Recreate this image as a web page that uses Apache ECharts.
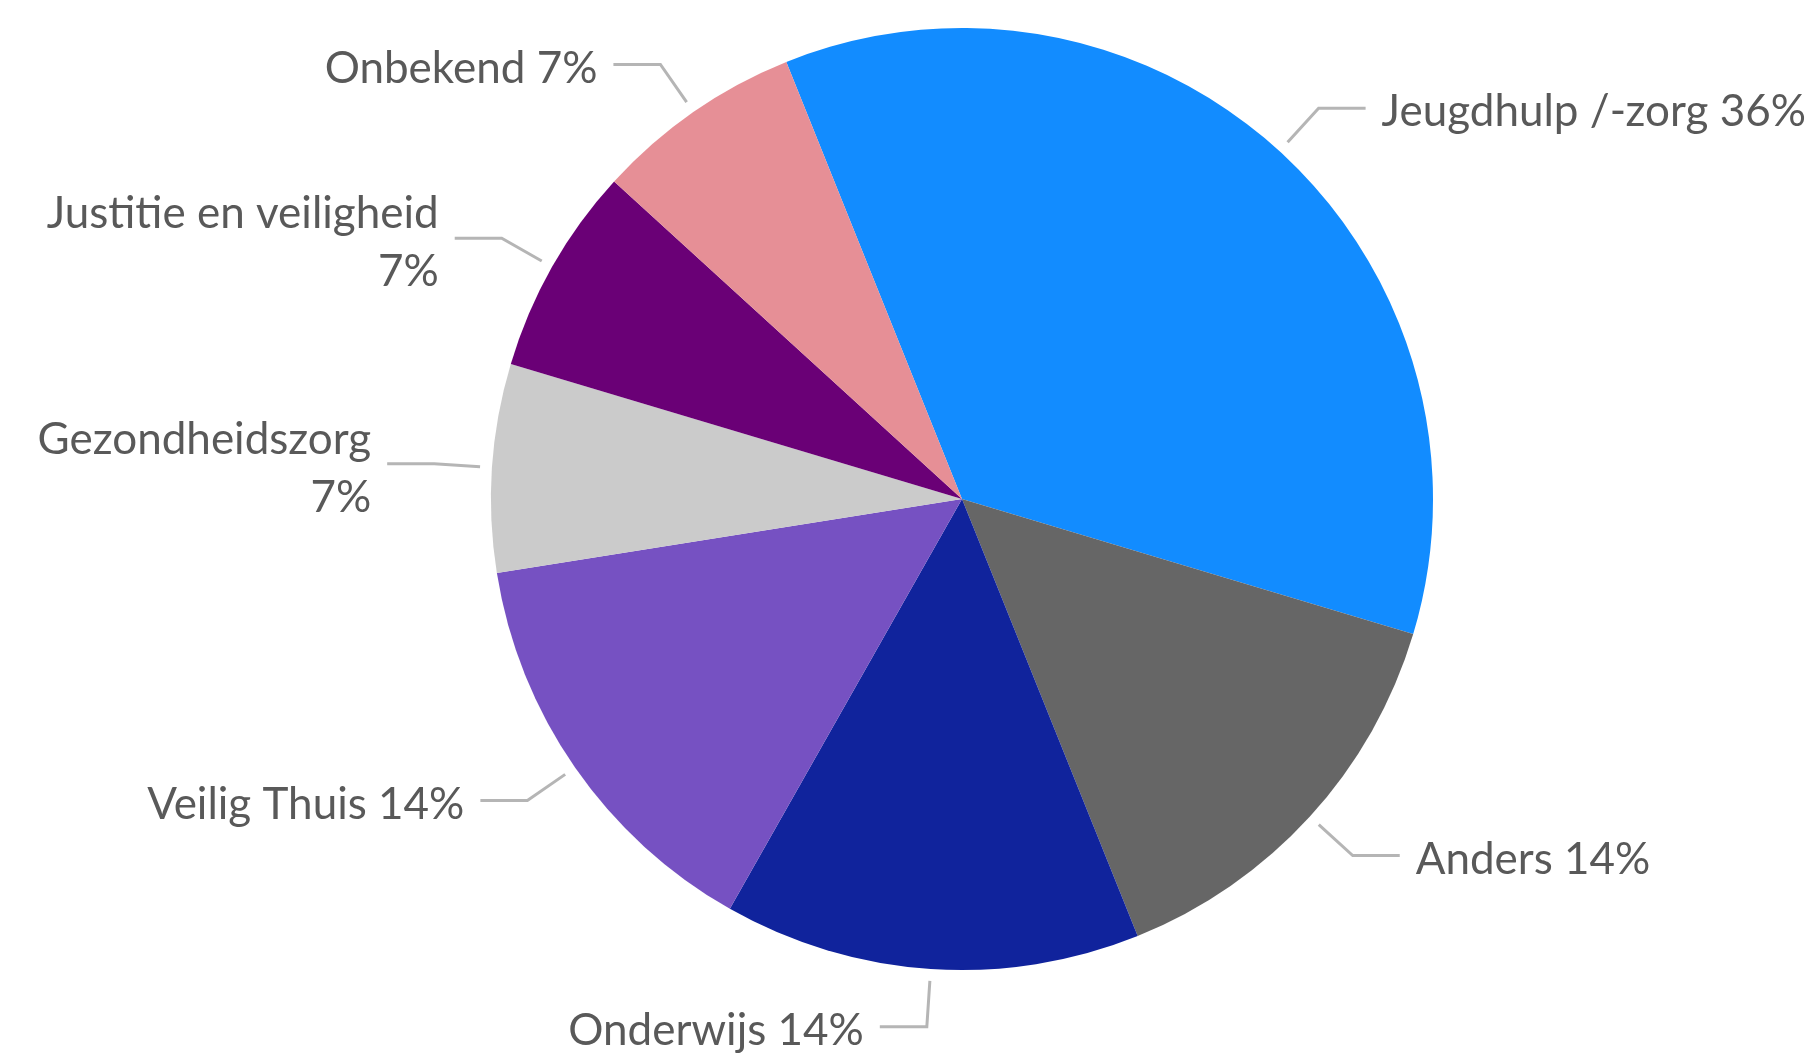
<!DOCTYPE html>
<html>
<head>
<meta charset="utf-8">
<script src="https://cdn.jsdelivr.net/npm/echarts@6/dist/echarts.min.js"></script>
<style>
html,body{margin:0;padding:0;background:#fff;}
#chart{width:1806px;height:1056px;}
</style>
</head>
<body>
<div id="chart"></div>
<script>
// Data (clockwise order starting at top)
const categories = ['Jeugdhulp /-zorg', 'Anders', 'Onderwijs', 'Veilig Thuis', 'Gezondheidszorg', 'Justitie en veiligheid', 'Onbekend'];
const counts = [5, 2, 2, 2, 1, 1, 1];
const colors = ['#128CFF', '#666666', '#10239C', '#7651C2', '#CBCBCB', '#6A0076', '#E68F96'];
const wrapLabel = [false, false, false, false, true, true, false];

const chart = echarts.init(document.getElementById('chart'), null, {renderer: 'canvas'});
chart.setOption({
  backgroundColor: '#ffffff',
  animation: false,
  series: [{
    type: 'pie',
    center: [962, 499],
    radius: 471,
    startAngle: 111.9,
    clockwise: true,
    avoidLabelOverlap: false,
    data: categories.map((c, i) => ({name: c, value: counts[i], itemStyle: {color: colors[i]}})),
    itemStyle: {borderWidth: 0},
    label: {
      show: true,
      position: 'outside',
      fontFamily: 'Lato',
      fontSize: 44,
      lineHeight: 58,
      color: '#595959',
      distanceToLabelLine: 16,
      bleedMargin: 0,
      formatter: function (p) {
        const pct = Math.round(p.percent) + '%';
        return p.name + (wrapLabel[p.dataIndex] ? '\n' : ' ') + pct;
      }
    },
    labelLine: {
      show: true,
      length: 58,
      length2: 47,
      smooth: false,
      lineStyle: {color: '#B5B5B5', width: 3}
    },
    labelLayout: function (p) {
      const pts = p.labelLinePoints;
      if (!pts || pts.length < 3) return {dy: 4};
      const a = pts[0], b = pts[1];
      const dx = b[0] - a[0], dy = b[1] - a[1];
      const len = Math.hypot(dx, dy) || 1;
      const g = 12;
      return {
        dy: wrapLabel[p.dataIndex] ? 5 : 4,
        labelLinePoints: [[a[0] + dx / len * g, a[1] + dy / len * g], [b[0], b[1]], [pts[2][0], pts[2][1]]]
      };
    },
    emphasis: {disabled: true}
  }]
});
</script>
</body>
</html>
